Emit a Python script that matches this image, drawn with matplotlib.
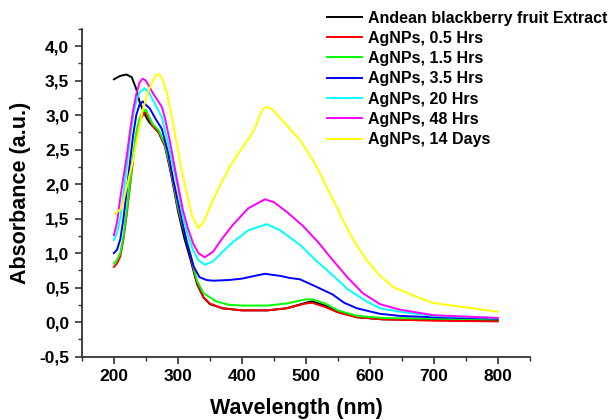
import matplotlib
matplotlib.use("Agg")
import matplotlib.pyplot as plt
from matplotlib.ticker import MultipleLocator, FuncFormatter

plt.rcParams["font.family"] = ["Liberation Sans", "DejaVu Sans"]
plt.rcParams["font.weight"] = "bold"

# Andean blackberry fruit extract
wl_extract = [200, 210, 220, 228, 235, 240, 245, 250, 255, 260, 270, 280, 290, 300, 310, 320, 330, 340,
              350, 370, 400, 440, 470, 500, 510, 530, 550, 580, 620, 700, 800]
abs_extract = [3.52, 3.57, 3.59, 3.55, 3.38, 3.2, 3.08, 2.98, 2.9, 2.85, 2.75, 2.55, 2.12, 1.62, 1.22, 0.9, 0.55, 0.36,
               0.26, 0.2, 0.17, 0.17, 0.2, 0.28, 0.3, 0.24, 0.15, 0.07, 0.04, 0.03, 0.02]

# AgNPs, 0.5 Hrs
wl_05 = [200, 205, 210, 215, 220, 225, 230, 235, 240, 245, 250, 255, 260, 270, 280, 290, 300, 310, 320, 325,
         330, 340, 350, 370, 400, 440, 470, 500, 510, 530, 550, 580, 620, 700, 800]
abs_05 = [0.8, 0.85, 0.95, 1.2, 1.55, 1.95, 2.35, 2.7, 2.9, 3.0, 3.04, 2.95, 2.85, 2.75, 2.55, 2.15, 1.65, 1.3, 0.95, 0.75,
          0.57, 0.36, 0.27, 0.2, 0.17, 0.17, 0.2, 0.27, 0.28, 0.22, 0.14, 0.07, 0.04, 0.02, 0.01]

# AgNPs, 1.5 Hrs
wl_15 = [200, 205, 210, 215, 220, 225, 230, 235, 240, 245, 250, 255, 260, 270, 280, 290, 300, 310, 320, 325,
         330, 340, 360, 380, 400, 440, 470, 500, 510, 530, 550, 580, 620, 700, 800]
abs_15 = [0.85, 0.9, 1.0, 1.25, 1.6, 2.0, 2.4, 2.75, 2.95, 3.05, 3.08, 2.98, 2.88, 2.78, 2.58, 2.18, 1.68, 1.32, 0.98, 0.78,
          0.6, 0.42, 0.3, 0.25, 0.24, 0.24, 0.27, 0.33, 0.33, 0.27, 0.17, 0.09, 0.06, 0.05, 0.04]

# AgNPs, 3.5 Hrs
wl_35 = [200, 205, 210, 215, 220, 225, 230, 235, 240, 245, 250, 256, 265, 275, 285, 292, 300, 314, 325, 334,
         345, 355, 380, 400, 420, 436, 460, 475, 491, 517, 542, 560, 580, 616, 647, 700, 800]
abs_35 = [1.0, 1.05, 1.2, 1.5, 1.9, 2.3, 2.7, 3.0, 3.15, 3.2, 3.15, 3.1, 2.95, 2.8, 2.45, 2.1, 1.75, 1.15, 0.8, 0.65,
          0.61, 0.6, 0.61, 0.63, 0.67, 0.7, 0.67, 0.64, 0.62, 0.51, 0.4, 0.28, 0.2, 0.12, 0.09, 0.07, 0.05]

# AgNPs, 20 Hrs
wl_20 = [200, 205, 210, 215, 220, 225, 230, 235, 240, 248, 255, 265, 275, 287, 300, 308, 316, 324, 332, 342,
         355, 370, 386, 410, 439, 460, 491, 515, 542, 565, 595, 616, 647, 700, 800]
abs_20 = [1.19, 1.3, 1.5, 1.85, 2.25, 2.65, 3.0, 3.2, 3.33, 3.39, 3.33, 3.15, 2.97, 2.5, 1.95, 1.52, 1.25, 1.04, 0.9, 0.83,
          0.88, 1.02, 1.16, 1.33, 1.42, 1.33, 1.12, 0.9, 0.68, 0.48, 0.3, 0.2, 0.15, 0.09, 0.06]

# AgNPs, 48 Hrs
wl_48 = [200, 205, 210, 215, 220, 225, 230, 235, 240, 245, 250, 255, 261, 268, 275, 280, 287, 295, 300, 308,
         316, 324, 332, 342, 355, 370, 386, 410, 436, 450, 470, 495, 520, 542, 565, 589, 616, 647, 700, 800]
abs_48 = [1.26, 1.45, 1.8, 2.1, 2.4, 2.75, 3.07, 3.3, 3.47, 3.53, 3.5, 3.42, 3.32, 3.22, 3.12, 2.95, 2.65, 2.25, 2.0, 1.62,
          1.35, 1.14, 1.0, 0.94, 1.02, 1.22, 1.41, 1.65, 1.78, 1.74, 1.6, 1.4, 1.15, 0.9, 0.65, 0.42, 0.26, 0.18, 0.1, 0.06]

# AgNPs, 14 Days
wl_14d = [202, 212, 220, 230, 238, 245, 252, 259, 265, 270, 276, 283, 290, 298, 306, 314, 322, 332, 340, 355,
          368, 381, 395, 412, 420, 428, 434, 439, 448, 459, 475, 491, 511, 522, 540, 558, 575, 595, 615, 636,
          667, 698, 720, 760, 800]
abs_14d = [1.57, 1.65, 1.95, 2.35, 2.75, 3.07, 3.3, 3.46, 3.57, 3.6, 3.52, 3.32, 3.0, 2.6, 2.2, 1.87, 1.55, 1.36, 1.45, 1.77,
           2.02, 2.25, 2.45, 2.68, 2.8, 3.0, 3.1, 3.12, 3.08, 2.97, 2.8, 2.64, 2.35, 2.16, 1.82, 1.48, 1.18, 0.9, 0.68, 0.51,
           0.39, 0.28, 0.25, 0.2, 0.15]

series = [
    (wl_extract, abs_extract, "black", "Andean blackberry fruit Extract"),
    (wl_05, abs_05, "#ff0000", "AgNPs, 0.5 Hrs"),
    (wl_15, abs_15, "#00ff00", "AgNPs, 1.5 Hrs"),
    (wl_35, abs_35, "#0000ff", "AgNPs, 3.5 Hrs"),
    (wl_20, abs_20, "#00ffff", "AgNPs, 20 Hrs"),
    (wl_48, abs_48, "#ff00ff", "AgNPs, 48 Hrs"),
    (wl_14d, abs_14d, "#ffff00", "AgNPs, 14 Days"),
]

fig = plt.figure(figsize=(6.11, 4.2), dpi=100)
ax = fig.add_axes([0.134, 0.151, 0.733, 0.78])

for x, y, color, label in series:
    ax.plot(x, y, color=color, lw=1.4, label=label)

ax.set_xlim(150, 850)
ax.set_ylim(-0.5, 4.25)
ax.xaxis.set_major_locator(MultipleLocator(100))
ax.xaxis.set_minor_locator(MultipleLocator(50))
ax.yaxis.set_major_locator(MultipleLocator(0.5))
ax.yaxis.set_minor_locator(MultipleLocator(0.25))
ax.set_xticks(range(200, 801, 100))
ax.yaxis.set_major_formatter(FuncFormatter(lambda v, p: f"{v:.1f}".replace(".", ",")))

for side in ["top", "right"]:
    ax.spines[side].set_visible(False)
for side in ["left", "bottom"]:
    ax.spines[side].set_linewidth(1.3)
    ax.spines[side].set_color("#333333")

ax.tick_params(which="major", direction="out", length=5, width=1.2, labelsize=12.5, colors="#333333",
               labelcolor="black", pad=4)
ax.tick_params(which="minor", direction="out", length=3, width=1.0, colors="#333333")

ax.set_xlabel("Wavelength (nm)", fontsize=15.5, fontweight="bold")
ax.set_ylabel("Absorbance (a.u.)", fontsize=15.5, fontweight="bold", labelpad=6)
ax.xaxis.set_label_coords(0.478, -0.125)

fig.legend(loc="upper left", bbox_to_anchor=(0.535, 0.975), frameon=False,
           handlelength=2.2, handletextpad=0.37, labelspacing=0.33, borderpad=0, borderaxespad=0,
           prop={"weight": "bold", "size": 11.5})

fig.savefig("out.png", dpi=100)
